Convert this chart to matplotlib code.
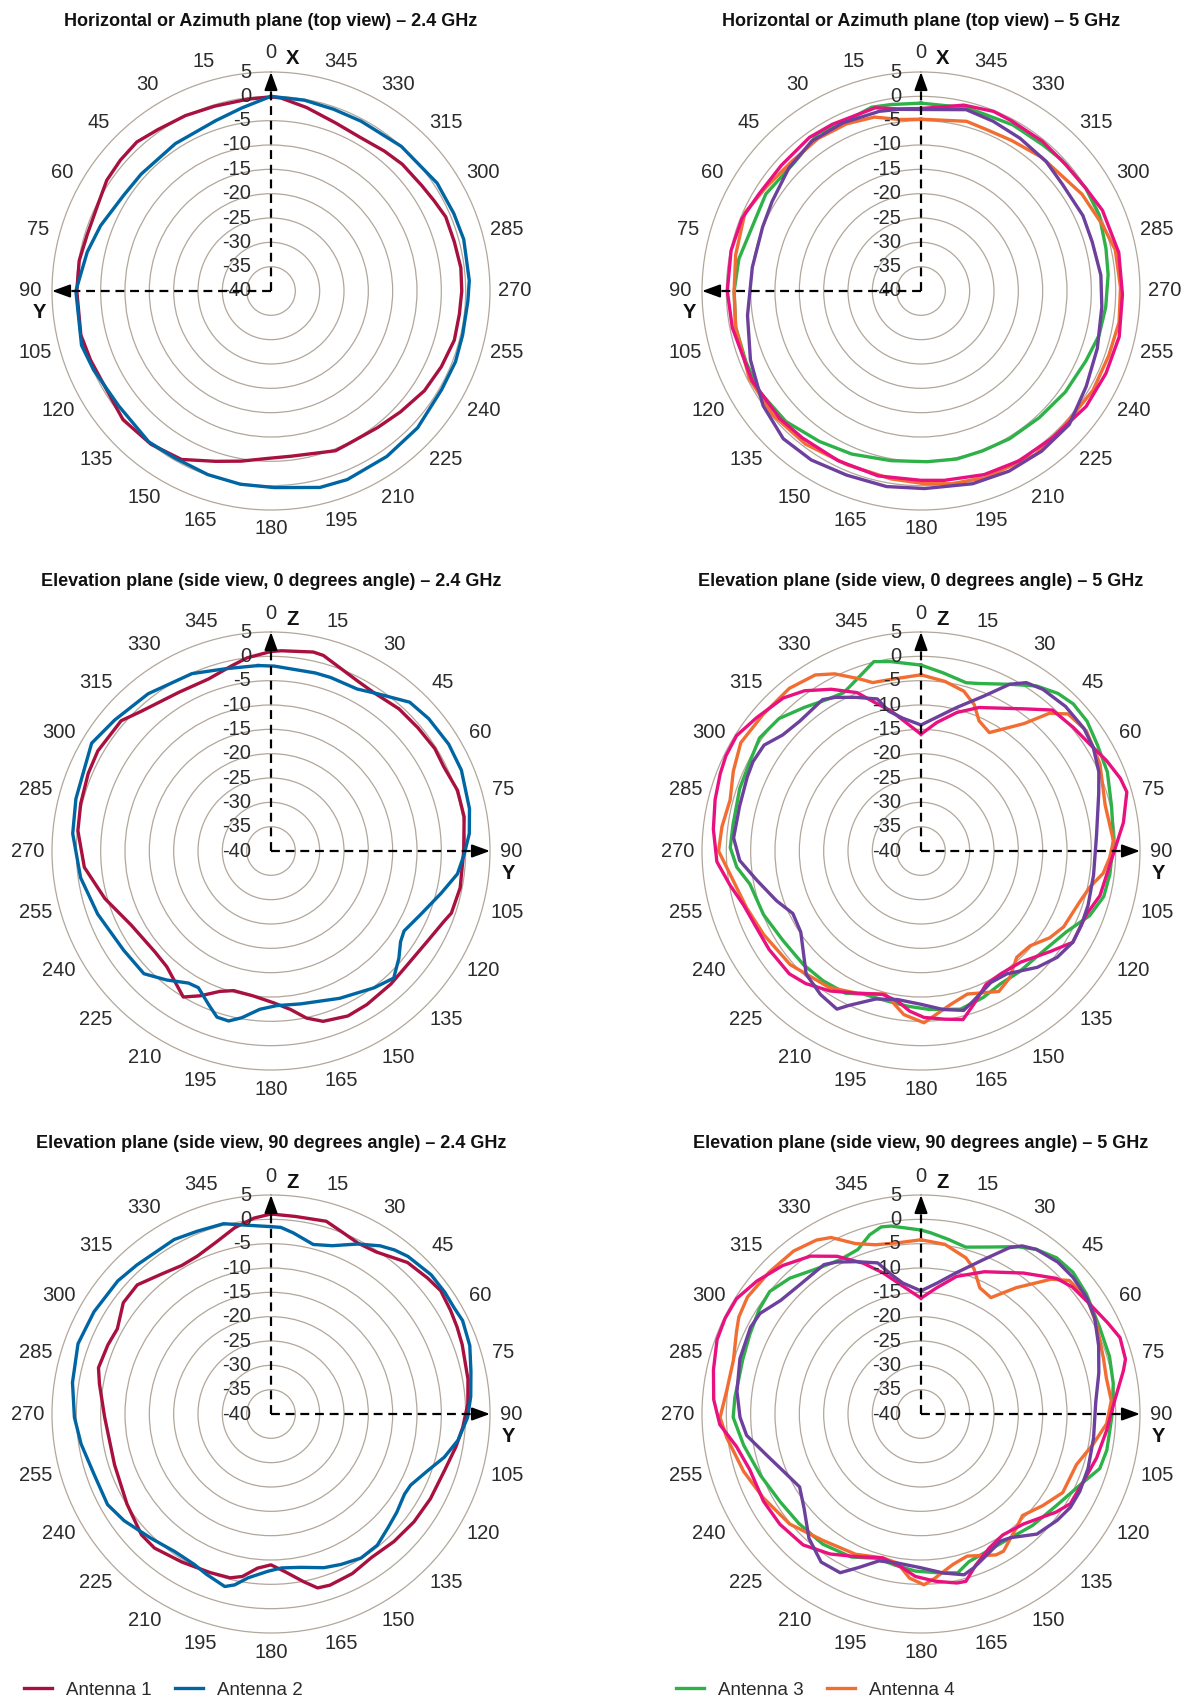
import numpy as np
import matplotlib
matplotlib.use('Agg')
import matplotlib.pyplot as plt
from matplotlib.transforms import offset_copy
from matplotlib.lines import Line2D

plt.rcParams['font.family'] = ['Liberation Sans', 'DejaVu Sans']

# ---- data (angle in degrees, gain in dB) ----
# Horizontal / azimuth plane, 2.4 GHz
az24_a1_deg = [0, 7, 17, 26, 35, 42, 49, 56, 63, 73, 81, 90, 103, 111, 121, 131, 142, 152, 162, 170,
               179, 187, 202, 207, 218, 227, 237, 246, 255, 263, 270, 277, 285, 293, 299, 305, 314,
               321, 330, 339, 349, 357]
az24_a1_db = [-0.1, -0.3, -0.3, 0.1, 0.5, 1.2, 1.0, 0.7, -0.2, -0.5, -0.1, -0.1, 0.1, -0.3, -0.6, 0.3,
              0.0, -0.8, -3.2, -4.5, -5.6, -5.8, -4.6, -4.8, -4.4, -3.6, -2.4, -1.7, -1.0, -1.0, -0.8,
              -0.7, -1.0, -1.0, -1.7, -2.2, -2.5, -3.0, -3.5, -3.0, -1.6, -0.3]
az24_a2_deg = [0, 9, 18, 33, 48, 57, 69, 78, 90, 106, 114, 127, 141, 150, 161, 171, 181, 194, 202, 215,
               227, 240, 249, 257, 267, 273, 285, 293, 303, 318, 332, 341, 350]
az24_a2_db = [0.0, -1.9, -3.2, -3.9, -4.1, -3.9, -2.5, -1.4, 0.1, 0.5, -0.1, -0.8, -0.1, -0.4, -0.1,
              0.2, 0.4, 1.6, 1.8, 1.5, 1.2, 0.5, 0.6, 0.4, 0.5, 0.8, 1.0, 0.8, 0.7, 0.0, -0.5, -0.5, -0.2]

# Horizontal / azimuth plane, 5 GHz
az5_a3_deg = [0, 9, 15, 27, 33, 44, 58, 80, 90, 101, 112, 122, 134, 146, 157, 170, 182, 192, 201, 211,
              223, 235, 247, 256, 265, 275, 283, 293, 302, 313, 320, 331, 340, 346]
az5_a3_db = [-1.4, -1.2, -0.9, -1.9, -1.3, -2.9, -2.4, -2.0, -1.6, -1.2, -1.2, -0.9, -1.4, -2.7, -3.6,
             -4.6, -4.9, -4.7, -4.8, -4.6, -4.4, -3.8, -3.2, -2.3, -1.9, -1.4, -1.0, -0.2, -0.1, -0.5,
             -0.9, -1.0, -1.4, -1.2]
az5_a4_deg = [0, 7, 15, 24, 34, 45, 56, 66, 79, 90, 101, 117, 130, 143, 157, 171, 181, 189, 199, 215,
              227, 240, 251, 261, 271, 282, 290, 301, 318, 329, 338, 345]
az5_a4_db = [-4.7, -4.5, -3.0, -2.4, -2.2, -2.4, -1.7, -0.4, -1.2, -1.6, -1.2, -0.4, -0.3, -0.6, -1.2,
             -0.9, -0.4, 0.1, 0.6, 1.0, 0.4, 0.8, 0.8, 1.2, 1.0, 0.8, -0.3, -1.4, -3.0, -3.9, -4.2, -3.9]
az5_a5_deg = [0, 7, 14, 28, 36, 48, 59, 68, 78, 90, 101, 118, 132, 141, 154, 167, 180, 187, 199, 210,
              222, 235, 246, 257, 269, 281, 294, 302, 311, 321, 332, 338, 347]
az5_a5_db = [-2.5, -2.3, -1.2, -1.2, -1.0, -1.4, -1.2, -0.3, -0.1, -0.2, -0.5, -0.7, -0.9, -1.2, -1.2,
             -1.0, -1.1, -0.8, -0.1, 0.3, 0.5, 1.4, 1.6, 1.8, 1.4, 1.4, 0.8, -0.1, -0.5, -0.4, -0.4,
             -0.2, -0.8]
az5_a6_deg = [0, 7, 13, 25, 36, 47, 59, 68, 82, 98, 112, 126, 137, 147, 158, 170, 181, 195, 206, 217,
              228, 240, 252, 265, 275, 286, 295, 307, 316, 327, 337, 346]
az5_a6_db = [-2.7, -2.4, -2.1, -1.9, -1.9, -2.9, -4.3, -4.9, -5.0, -4.0, -2.2, 0.1, 1.5, 1.4, 0.8, 0.8,
             0.6, 1.0, 1.2, 1.2, 1.0, -0.8, -1.9, -2.7, -2.9, -3.4, -3.3, -3.6, -3.0, -2.6, -2.1, -1.6]

# Elevation plane 0 degrees, 2.4 GHz
el0_24_a1_deg = [0, 3, 12, 15, 27, 33, 42, 50, 58, 64, 72, 80, 90, 101, 109, 112, 120, 130, 138, 148,
                 155, 163, 168, 173, 179, 187, 195, 200, 206, 211, 214, 222, 229, 242, 254, 265, 276,
                 284, 293, 300, 311, 317, 330, 340, 348, 353]
el0_24_a1_db = [1.0, 1.2, 1.8, 1.6, -0.8, -1.2, -0.7, -0.6, -0.3, -0.5, 0.3, 0.3, -0.4, -0.4, -0.8,
                -1.6, -2.9, -3.5, -3.2, -2.8, -2.6, -3.4, -4.9, -7.2, -8.8, -10.0, -10.3, -9.3, -6.9,
                -5.0, -6.0, -8.0, -8.4, -7.5, -4.5, -1.5, -0.1, 0.3, 0.8, 1.1, 0.8, -0.8, -2.3, -2.4,
                -1.1, 0.0]
el0_24_a2_deg = [356, 1, 14, 19, 28, 34, 43, 50, 59, 67, 78, 85, 91, 97, 104, 113, 121, 125, 130, 136,
                 143, 155, 169, 178, 184, 190, 194, 198, 202, 208, 212, 219, 226, 236, 250, 262, 275,
                 285, 301, 310, 322, 336, 346]
el0_24_a2_db = [-1.8, -2.0, -2.3, -2.3, -2.3, -1.0, 1.8, 2.3, 2.6, 2.5, 1.7, 0.9, -0.3, -1.4, -4.0,
                -6.6, -8.1, -7.5, -5.7, -3.7, -4.8, -6.6, -8.0, -8.2, -7.4, -5.2, -4.0, -4.1, -5.9,
                -8.2, -8.0, -5.9, -3.7, -3.5, -2.1, -0.5, 0.9, 1.5, 3.0, 1.9, 1.0, -0.1, -1.4]

# Elevation plane 0 degrees, 5 GHz
el0_5_a3_deg = [0, 7, 15, 19, 28, 35, 41, 46, 52, 59, 67, 77, 87, 97, 104, 111, 119, 129, 141, 149,
                157, 166, 177, 185, 193, 202, 208, 217, 226, 237, 248, 259, 265, 271, 278, 289, 298,
                305, 313, 321, 327, 334, 342, 346, 351]
el0_5_a3_db = [-1.8, -3.1, -4.2, -3.6, -1.2, 1.4, 2.9, 3.5, 3.3, 2.3, 1.6, 0.2, -0.4, -0.9, -1.3,
               -2.9, -5.8, -7.5, -8.0, -8.2, -7.3, -6.5, -7.4, -8.0, -8.4, -8.3, -6.9, -6.6, -6.4,
               -6.2, -5.1, -4.2, -2.0, -0.8, -1.0, -0.6, -0.3, 0.5, -0.1, -2.0, -3.2, -3.8, -1.5,
               0.1, -0.6]
el0_5_a4_deg = [0, 8, 15, 20, 24, 30, 39, 43, 47, 54, 64, 76, 87, 92, 97, 102, 108, 118, 124, 131,
                138, 145, 151, 162, 169, 179, 186, 194, 204, 214, 229, 242, 252, 263, 270, 277, 285,
                293, 301, 311, 321, 329, 334, 340, 344, 351]
el0_5_a4_db = [-3.8, -4.8, -6.0, -8.0, -10.7, -11.9, -6.3, -1.3, 1.3, 2.0, 0.9, -1.0, -0.4, -1.2,
               -2.3, -4.5, -5.8, -6.8, -8.1, -10.3, -10.6, -8.2, -7.0, -9.1, -7.9, -4.7, -6.2, -9.7,
               -8.0, -6.2, -4.4, -3.4, -2.3, -0.5, 1.6, 1.2, 0.6, 1.9, 3.2, 2.9, 3.0, 2.2, 0.5, -2.3,
               -4.0, -4.2]
el0_5_a5_deg = [0, 7, 14.5, 22, 36, 43, 51, 58, 64, 70, 74, 82, 91, 104, 111, 121, 128, 138, 147,
                154, 161, 166, 172, 179, 184, 189, 195, 204, 213, 221, 227, 237, 245, 253, 260, 267,
                276, 284, 291, 296, 302, 309, 318, 324, 331, 338, 343, 348]
el0_5_a5_db = [-16.0, -13.4, -10.6, -8.2, -3.9, -0.4, 0.3, 1.1, 2.4, 3.6, 4.0, 2.0, -0.5, -2.1,
               -3.6, -3.6, -6.4, -9.3, -9.9, -9.5, -6.7, -4.3, -5.1, -5.8, -7.0, -8.8, -9.5, -8.0,
               -5.7, -3.9, -3.0, -2.8, -2.7, -1.9, -0.1, 2.0, 2.9, 3.6, 4.2, 4.6, 4.7, 3.5, 2.3, 0.7,
               -2.0, -4.9, -8.2, -10.6]
el0_5_a6_deg = [0, 14, 22, 28, 32, 37, 45, 53, 59, 66, 72, 85, 98, 108, 115, 121, 128, 135, 145,
                152, 161, 165, 172, 180, 189, 197, 205, 208, 215, 223, 236, 244, 251, 260, 267, 274,
                284, 293, 298, 304, 310, 317, 327, 331, 337, 344, 347, 352]
el0_5_a6_db = [-14.1, -9.6, -5.7, -1.2, 0.8, 1.6, 2.0, 1.9, 1.3, 0.0, -1.6, -3.8, -4.2, -3.9, -3.7,
               -3.6, -4.5, -6.2, -9.2, -9.4, -7.3, -6.1, -7.1, -8.5, -9.1, -8.2, -5.0, -3.2, -4.0,
               -5.4, -10.2, -10.7, -8.6, -5.7, -2.7, -1.4, -1.6, -1.2, -0.9, -1.1, -2.9, -3.5, -2.9,
               -3.9, -5.7, -7.5, -10.5, -12.4]

# Elevation plane 90 degrees, 2.4 GHz
el90_24_a1_deg = [0, 7, 16, 21, 27, 33, 42, 49, 54, 60, 65, 70, 80, 87, 94, 100, 108, 118, 127, 136,
                  145, 153, 161, 165, 169, 175, 180, 185, 190, 194, 201, 211, 221, 227, 238, 252,
                  269, 280, 285, 293, 299, 307, 314, 322, 329, 335, 342, 349, 355]
el90_24_a1_db = [1.1, 0.9, 1.2, 0.2, -0.6, -0.3, 1.9, 2.6, 3.1, 2.6, 2.2, 1.8, 1.1, 0.5, -0.5, -1.4,
                 -2.5, -2.9, -3.2, -3.6, -4.0, -3.2, -2.8, -3.0, -4.9, -7.5, -9.0, -8.2, -6.1, -5.3,
                 -5.1, -4.5, -3.5, -3.6, -5.1, -6.2, -5.8, -4.2, -3.3, -3.6, -3.9, -2.0, -1.8, -3.5,
                 -4.4, -4.2, -3.0, -1.0, 0.4]
el90_24_a2_deg = [0, 3, 7, 14, 20, 27, 33, 37, 41, 49, 55, 60, 64, 71, 78, 85, 91, 98, 104, 110, 117,
                  121, 128, 134, 141, 148, 155, 161, 169, 176, 181, 188, 192, 195, 202, 207, 215,
                  224, 234, 241, 251, 261, 269, 279, 290, 300, 311, 318, 331, 338, 346, 352]
el90_24_a2_db = [-1.5, -1.6, -2.5, -4.1, -3.2, -0.8, 1.2, 2.2, 2.9, 3.6, 3.6, 3.5, 3.8, 3.2, 2.0,
                 1.2, 0.4, -1.2, -3.3, -5.8, -7.8, -8.0, -7.2, -6.5, -5.3, -5.1, -5.9, -6.6, -7.9,
                 -8.3, -7.7, -6.0, -4.1, -3.3, -4.5, -5.3, -5.5, -4.5, -2.7, -1.6, -1.6, -0.5, 0.4,
                 1.3, 2.2, 2.0, 1.7, 1.2, 1.0, 0.5, 0.3, -0.8]

# Elevation plane 90 degrees, 5 GHz
el90_5_a3_deg = [0, 3, 9, 15, 22, 30, 35, 41, 47, 54, 64, 73, 81, 91, 101, 107, 114, 124, 135, 144,
                 154, 162, 167, 174, 182, 190, 197, 206, 217, 228, 238, 249, 260, 269, 275, 287,
                 295, 303, 309, 316, 324, 332, 339, 344, 348, 351]
el90_5_a3_db = [-2.2, -2.7, -3.7, -4.5, -3.0, -0.3, 1.3, 2.5, 2.7, 2.0, 0.8, 0.5, 0.0, -0.8, -1.1,
                -1.6, -4.2, -6.4, -7.6, -8.6, -8.7, -8.1, -6.5, -7.2, -7.7, -8.5, -9.0, -7.3, -6.5,
                -6.3, -5.9, -4.7, -3.0, -1.4, -1.6, -1.7, -1.2, -0.4, 0.0, -1.2, -3.2, -4.2, -3.8,
                -1.7, -0.7, -0.9]
el90_5_a4_deg = [0, 8, 16, 20, 25, 31, 37, 44, 48, 55, 63, 73, 79, 86, 93, 100, 108, 119, 127, 135,
                 140, 149, 152, 162, 168, 175, 179, 184, 189, 195, 205, 218, 230, 242, 252, 263,
                 269, 277, 286, 294, 298, 304, 313, 322, 329, 333, 339, 345, 352]
el90_5_a4_db = [-4.2, -4.8, -6.6, -8.2, -11.4, -12.1, -7.5, -1.5, 1.0, 1.6, 0.5, -0.8, -1.2, -0.8,
                -1.8, -4.1, -6.4, -6.7, -8.7, -10.5, -9.5, -7.1, -7.2, -9.3, -8.4, -6.2, -4.9, -6.2,
                -9.0, -9.4, -8.2, -7.1, -4.8, -3.3, -1.7, 0.2, 1.3, 0.2, 0.1, 1.5, 2.4, 3.0, 2.7,
                2.5, 1.7, 0.7, -2.5, -4.0, -4.5]
el90_5_a5_deg = [0, 7, 14.5, 24, 36, 45, 50, 57, 64, 69, 75, 78, 86, 95, 104, 113, 121, 126, 137,
                 146, 153, 160, 165, 168, 175, 182, 187, 195, 204, 213, 222, 232, 241, 252, 260,
                 267, 274, 282, 290, 296, 302, 309, 317, 325, 332, 339, 345, 352]
el90_5_a5_db = [-16.2, -13.9, -10.8, -8.0, -4.2, -0.6, 0.6, 1.4, 2.7, 3.8, 3.5, 2.5, -0.1, -1.7,
                -2.8, -3.9, -4.2, -5.7, -9.1, -10.0, -9.1, -7.0, -4.4, -4.5, -5.5, -6.6, -8.2, -9.4,
                -7.9, -5.7, -3.8, -3.2, -3.0, -3.0, -1.5, 1.4, 2.7, 3.6, 4.6, 4.8, 4.7, 3.4, 1.7,
                -0.4, -3.3, -6.8, -10.0, -13.5]
el90_5_a6_deg = [0, 7, 14, 22, 28, 31, 35, 42, 48, 55, 61, 69, 77, 86, 98, 108, 116, 122, 128, 136,
                 144, 148, 153, 161, 165, 172, 180, 189, 196, 202, 207, 214, 222, 231, 239, 246,
                 255, 263, 269, 277, 287, 297, 302, 309, 317, 327, 331, 337, 344, 348, 352]
el90_5_a6_db = [-14.7, -12.9, -10.1, -5.8, -1.3, 0.3, 1.3, 2.0, 2.0, 1.6, 0.8, -0.9, -2.5, -4.0,
                -4.2, -3.9, -3.7, -3.8, -4.5, -5.7, -8.6, -9.2, -8.4, -6.6, -5.8, -7.0, -8.4, -9.0,
                -8.6, -6.0, -3.4, -3.3, -5.6, -9.1, -10.9, -9.7, -7.2, -3.9, -2.8, -1.9, -1.1, -0.7,
                -1.0, -2.9, -3.6, -3.4, -4.3, -6.0, -7.7, -10.7, -12.8]

ring_levels = [-35, -30, -25, -20, -15, -10, -5, 0, 5]
ring_labels = ['-35', '-30', '-25', '-20', '-15', '-10', '-5', '0', '5']
angle_ticks = list(range(0, 360, 15))

colors = {'a1': '#a8103f', 'a2': '#0065a3', 'a3': '#2eb148', 'a4': '#f26d32',
          'a5': '#e8117f', 'a6': '#6c409c'}
ring_col = '#b2a79b'
txt_col = '#2b2b2b'

W, H = 1184, 1701
R_PX = 219
TICK_FS = 14.5
fig = plt.figure(figsize=(W / 100, H / 100), dpi=100)


def polar_panel(cx, cy, direction, title, up_letter, side_letter_pos, series):
    ax = fig.add_axes([(cx - R_PX) / W, 1 - (cy + R_PX) / H, 2 * R_PX / W, 2 * R_PX / H],
                      projection='polar')
    ax.set_theta_zero_location('N')
    ax.set_theta_direction(direction)
    ax.set_rlim(-40, 5)
    ax.set_rticks(ring_levels[:-1])
    ax.set_yticklabels([])
    ax.set_xticks([])
    ax.yaxis.grid(True, color=ring_col, lw=0.9)
    ax.spines['polar'].set_color(ring_col)
    ax.spines['polar'].set_linewidth(0.9)

    for deg, db, c in series:
        t = np.deg2rad(np.append(deg, deg[0]))
        r = np.append(db, db[0])
        ax.plot(t, r, color=c, lw=2.4, solid_joinstyle='round', clip_on=False, zorder=3)

    # dashed axis arrows
    for th in (0, np.pi / 2):
        ax.plot([th, th], [-40, 3], color='black', lw=1.6, ls=(0, (4, 2.6)), zorder=5,
                dash_capstyle='butt')
        ax.annotate('', xy=(th, 5), xytext=(th, 1.2),
                    arrowprops=dict(arrowstyle='-|>,head_length=0.55,head_width=0.2',
                                    color='black', lw=1.4, shrinkA=0, shrinkB=0,
                                    mutation_scale=20), zorder=6)

    # radial labels
    off = offset_copy(ax.transData, fig=fig, x=-20, y=0, units='dots')
    ax.text(0, -40, '-40', transform=off, ha='right', va='center', fontsize=TICK_FS, color=txt_col)
    for lev, lab in zip(ring_levels, ring_labels):
        ax.text(0, lev, lab, transform=off, ha='right', va='center', fontsize=TICK_FS,
                color=txt_col, zorder=4)

    # angle labels, placed round the outer ring
    for a in angle_ticks:
        rad = np.deg2rad(a)
        sx = -direction * np.sin(rad)
        sy = np.cos(rad)
        w = 10.8 * len(str(a))
        ox = 234 * sx + np.sign(np.round(sx, 6)) * 0.3 * w
        oy = 238 * sy
        tr = offset_copy(ax.transData, fig=fig, x=ox, y=oy, units='dots')
        ax.text(0, -40, str(a), transform=tr, ha='center', va='center', fontsize=TICK_FS,
                color=txt_col)

    # axis letters
    lt = offset_copy(ax.transData, fig=fig, x=22, y=232, units='dots')
    ax.text(0, -40, up_letter, transform=lt, ha='center', va='center', fontsize=TICK_FS,
            fontweight='bold', color='#111111')
    st = offset_copy(ax.transData, fig=fig, x=side_letter_pos[0], y=side_letter_pos[1],
                     units='dots')
    ax.text(0, -40, 'Y', transform=st, ha='center', va='center', fontsize=TICK_FS,
            fontweight='bold', color='#111111')

    fig.text(cx / W, 1 - (cy - 270) / H, title, ha='center', va='center', fontsize=13,
             fontweight='bold', color='#111111')
    return ax


cols_x = [271, 921]
rows_y = [291, 851, 1414]

polar_panel(cols_x[0], rows_y[0], 1, 'Horizontal or Azimuth plane (top view) \u2013 2.4 GHz', 'X',
            (-232, -22), [(az24_a1_deg, az24_a1_db, colors['a1']),
                          (az24_a2_deg, az24_a2_db, colors['a2'])])
polar_panel(cols_x[1], rows_y[0], 1, 'Horizontal or Azimuth plane (top view) \u2013 5 GHz', 'X',
            (-232, -22), [(az5_a3_deg, az5_a3_db, colors['a3']),
                          (az5_a4_deg, az5_a4_db, colors['a4']),
                          (az5_a5_deg, az5_a5_db, colors['a5']),
                          (az5_a6_deg, az5_a6_db, colors['a6'])])
polar_panel(cols_x[0], rows_y[1], -1, 'Elevation plane (side view, 0 degrees angle) \u2013 2.4 GHz',
            'Z', (237, -22), [(el0_24_a1_deg, el0_24_a1_db, colors['a1']),
                              (el0_24_a2_deg, el0_24_a2_db, colors['a2'])])
polar_panel(cols_x[1], rows_y[1], -1, 'Elevation plane (side view, 0 degrees angle) \u2013 5 GHz',
            'Z', (237, -22), [(el0_5_a3_deg, el0_5_a3_db, colors['a3']),
                              (el0_5_a4_deg, el0_5_a4_db, colors['a4']),
                              (el0_5_a5_deg, el0_5_a5_db, colors['a5']),
                              (el0_5_a6_deg, el0_5_a6_db, colors['a6'])])
polar_panel(cols_x[0], rows_y[2], -1, 'Elevation plane (side view, 90 degrees angle) \u2013 2.4 GHz',
            'Z', (237, -22), [(el90_24_a1_deg, el90_24_a1_db, colors['a1']),
                              (el90_24_a2_deg, el90_24_a2_db, colors['a2'])])
polar_panel(cols_x[1], rows_y[2], -1, 'Elevation plane (side view, 90 degrees angle) \u2013 5 GHz',
            'Z', (237, -22), [(el90_5_a3_deg, el90_5_a3_db, colors['a3']),
                              (el90_5_a4_deg, el90_5_a4_db, colors['a4']),
                              (el90_5_a5_deg, el90_5_a5_db, colors['a5']),
                              (el90_5_a6_deg, el90_5_a6_db, colors['a6'])])

# legends
leg_kw = dict(loc='center left', ncol=2, frameon=False, fontsize=13.5, handlelength=1.5,
              handletextpad=0.75, columnspacing=1.25, borderpad=0, borderaxespad=0,
              labelcolor=txt_col)
h12 = [Line2D([], [], color=colors['a1'], lw=2.4), Line2D([], [], color=colors['a2'], lw=2.4)]
fig.legend(h12, ['Antenna 1', 'Antenna 2'], bbox_to_anchor=(24 / W, 1 - 1690 / H), **leg_kw)
h34 = [Line2D([], [], color=colors['a3'], lw=2.4), Line2D([], [], color=colors['a4'], lw=2.4)]
fig.legend(h34, ['Antenna 3', 'Antenna 4'], bbox_to_anchor=(676 / W, 1 - 1690 / H), **leg_kw)

fig.savefig('out.png', dpi=100, facecolor='white')
